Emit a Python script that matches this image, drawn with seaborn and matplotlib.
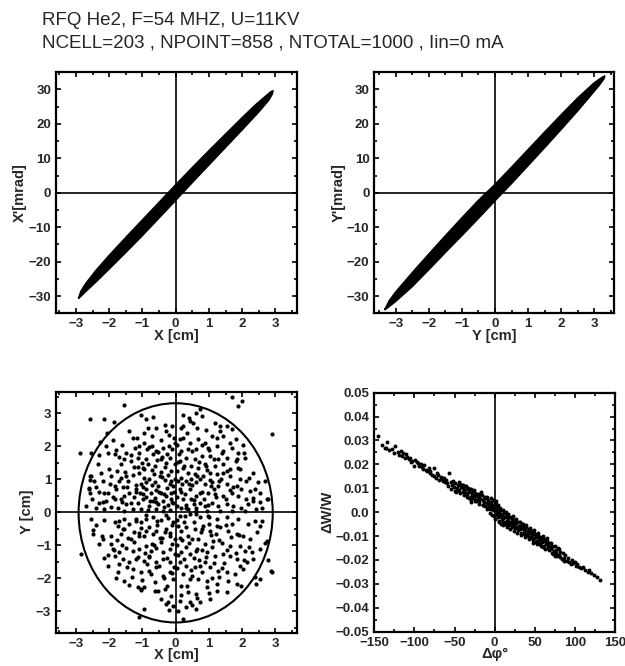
import matplotlib
matplotlib.use("Agg")
import matplotlib.pyplot as plt
from matplotlib.patches import Ellipse
from matplotlib.ticker import MultipleLocator, FixedLocator, FixedFormatter
import seaborn as sns
import pandas as pd

# ---------------- data ----------------
title_lines = ["RFQ He2, F=54 MHZ, U=11KV",
               "NCELL=203 , NPOINT=858 , NTOTAL=1000 , Iin=0 mA"]

# X-X' phase-space outline (upper edge then lower edge)
xx_x = [-2.92, -2.85, -2.7, -2.4, -2.0, -1.5, -1.0, -0.5, 0.0, 0.5, 1.0, 1.5, 2.0, 2.4, 2.7, 2.86, 2.93,
        2.9, 2.8, 2.5, 2.0, 1.5, 1.0, 0.5, 0.0, -0.5, -1.0, -1.5, -2.0, -2.4, -2.7, -2.88, -2.92]
xx_xp = [-30.6, -28.6, -26.3, -22.6, -18.2, -13.0, -7.9, -2.8, 2.3, 7.3, 12.2, 17.0, 21.8, 25.5, 28.0, 29.3, 29.6,
         28.6, 26.9, 23.5, 18.3, 13.2, 8.1, 3.0, -2.2, -7.3, -12.4, -17.3, -22.1, -25.9, -28.6, -30.3, -30.6]

# Y-Y' phase-space outline
yy_y = [-3.33, -3.2, -3.0, -2.5, -2.0, -1.5, -1.0, -0.5, 0.0, 0.5, 1.0, 1.5, 2.0, 2.5, 3.0, 3.22, 3.32,
        3.3, 3.15, 2.8, 2.5, 2.0, 1.5, 1.0, 0.5, 0.0, -0.5, -1.0, -1.5, -2.0, -2.5, -3.0, -3.25, -3.33]
yy_yp = [-33.9, -31.4, -28.8, -23.2, -17.8, -12.5, -7.3, -2.2, 2.4, 7.4, 12.5, 17.6, 22.6, 27.5, 31.9, 33.4, 33.9,
         33.2, 31.2, 27.2, 23.8, 18.4, 13.1, 7.9, 2.7, -2.3, -7.4, -12.4, -17.3, -22.3, -27.2, -31.5, -33.4, -33.9]

# X-Y beam cross-section particles (cm)
xy_x = [-1.54, -2.58, -2.15, -1.87, -1.04, -0.89, -0.68, -0.84, -0.33, -0.10, -2.07, -2.27, -2.09, -2.87, -2.55,
        -2.30, -2.04, -1.84, -1.69, -1.49, -1.34, -1.21, -1.17, -1.29, -0.94, -1.09, -0.79, -0.58, -0.38, -0.20,
        -0.03, -1.14, -0.89, -0.68, -0.43, -0.18, -0.03, -1.64, -1.14, -0.99, -0.84, -0.63, -0.33, -0.13, -2.55,
        -2.20, -1.99, -1.84, -1.64, -1.49, -1.29, -1.09, -0.94, -0.79, -0.63, -0.48, -0.33, -0.18, -0.03, -2.60,
        -2.30, -2.04, -1.79, -1.59, -1.39, -1.19, -0.99, -0.89, -0.74, -0.58, -0.43, -0.28, -0.13, -2.52, -2.30,
        -2.09, -1.84, -1.64, -1.49, -1.34, -1.14, -0.99, -0.79, -0.68, -0.53, -0.38, -0.23, -0.08, -2.40, -2.15,
        -1.74, -1.54, -1.29, -1.04, -0.84, -0.58, -0.38, -0.18, -2.57, -2.57, -2.60, -2.57,
        -1.42, -1.18, -0.97, -0.71, -0.52, -0.27, -0.08, -1.55, -1.26, -0.62, -0.35, -0.15, -0.05, -1.08, -0.88,
        -0.45, -0.72, -1.02, -1.35, -0.55, -0.25, -0.10, -0.05, -0.20, -0.45, -0.70, -1.60, -1.90, -1.75, -2.00,
        -2.35, -2.20, -1.95, -2.70, -2.40,
        1.68, 2.00, 1.88, 2.89, 0.22, 0.39, 0.73, 0.62, 0.78, 0.52, 0.22, 1.18, 1.33, 1.53, 1.68, 1.43, 1.33,
        0.22, 0.12, 0.42, 0.67, 0.88, 1.23, 1.63, 1.81, 2.03, 0.98, 0.62, 0.37, 0.17, 1.23, 1.43, 1.68, 1.88,
        2.08, 1.83, 1.53, 1.28, 1.03, 0.78, 0.57, 0.32, 0.12, 0.22, 0.47, 0.67, 0.88, 1.18, 1.43, 1.63, 1.88,
        2.34, 2.13, 2.49, 2.69, 0.37, 0.57, 0.83, 1.03, 1.23, 1.43, 1.63, 1.93, 0.17, 0.32, 0.62, 0.88, 1.08,
        1.28, 1.53, 1.73, 1.98, 2.24, 2.54, 2.74, 0.12, 0.42, 0.73, 0.98, 1.18, 1.43, 1.68, 1.88, 2.13, 2.34,
        0.22, 0.47, 0.73, 0.88, 1.08, 1.28, 1.53, 1.73, 1.98, 2.19, 2.42, 2.59, 0.17, 0.37, 0.62, 0.93, 1.33,
        1.68, 2.08, 2.34, 2.79,
        0.05, 0.08, 0.28, 0.50, 0.72, 0.95, 1.15, 0.85, 0.55, 0.30, 0.05, 0.10, 0.45, 1.02, 1.35, 0.62, 0.05,
        0.15, 0.05, 0.90,
        -2.15, -2.50, -2.23, -2.20, -2.85, -1.84, -1.74, -1.59, -1.39, -1.19, -1.04, -0.89, -0.68, -0.43, -0.23,
        -0.08, -1.64, -1.44, -1.24, -1.09, -0.89, -0.68, -0.48, -0.33, -0.18, -0.03, -1.89, -1.69, -1.49, -1.29,
        -1.09, -0.89, -0.74, -0.58, -0.38, -0.18, -0.03, -1.84, -1.59, -1.39, -1.14, -0.94, -0.79, -0.58, -0.38,
        -0.18, -1.74, -1.54, -1.29, -1.04, -0.79, -0.58, -0.38, -0.18, -0.08, -1.14, -1.04, -0.94, -0.53, -0.33,
        -0.13, -0.23, -0.08, -0.94, -1.09,
        -1.95, -2.05, -1.75, -1.25, -0.95, -0.55, -0.28, -0.10, -0.45, -0.70, -1.05, -1.55, -2.40, -1.30, -0.62,
        -0.25, -0.05, -0.85, -1.70, -2.05, -0.20, -0.30, -1.05,
        0.12, 0.42, 0.73, 0.98, 1.23, 1.53, 1.88, 2.19, 2.39, 2.54, 0.07, 0.32, 0.57, 0.83, 1.03, 1.33, 1.58,
        1.83, 2.03, 2.24, 0.12, 0.37, 0.67, 0.88, 1.13, 1.38, 1.63, 1.93, 2.08, 2.29, 2.54, 2.69, 2.74, 0.17,
        0.42, 0.62, 0.93, 1.18, 1.43, 1.63, 1.83, 2.14, 2.34, 0.12, 0.32, 0.57, 0.88, 1.03, 1.28, 1.53, 1.78,
        2.03, 2.39, 2.54, 2.89, 0.22, 0.42, 0.67, 0.93, 1.23, 1.58, 1.83, 1.98, 2.42, 0.17, 0.37, 0.62, 0.93,
        1.23, 1.53, 0.12, 0.42, 0.73, 1.03, 0.32, 0.62, 0.22, 0.07,
        0.05, 0.25, 0.50, 0.75, 1.00, 1.20, 0.30, 0.55, 0.80, 1.10, 0.05, 0.45, 0.70, 1.45, 1.70, 0.15, 0.05,
        1.30, 2.86, 2.79,
        -0.35, -0.60, -0.90, -1.20, -1.45, -1.70, -1.95, -2.25, -0.15, -0.40, -0.65, -0.95, -1.25, -1.55, -1.80,
        -0.28, -0.52, -0.85, -1.10, -0.30, -0.60, -1.40, -0.12, -0.50, -0.78, -1.05, -1.62, -2.15, -2.45, -0.22,
        -0.40, -1.52, -1.88, -0.70, -0.95,
        0.30, 0.55, 0.80, 1.05, 1.30, 1.55, 1.80, 2.05, 0.15, 0.40, 0.65, 0.90, 1.15, 1.40, 0.25, 0.50, 0.80,
        1.10, 0.35, 0.65, 1.50, 1.85, 2.20, 2.40, 0.98, 1.22, 0.08, 0.70, 1.95, 2.55, 0.42, 1.00, 1.62, 0.20,
        0.60,
        -0.30, -0.55, -0.80, -1.10, -1.35, -1.60, -1.85, -2.15, -0.18, -0.42, -0.65, -0.92, -1.18, -1.45, -0.25,
        -0.50, -0.75, -1.00, -0.35, -0.62, -1.55, -1.95, -2.30, -2.50, -1.20, -0.90, -0.12, -0.80, -1.80, -2.55,
        -0.45, -1.40, -1.70, -0.10, -0.60,
        0.28, 0.55, 0.80, 1.05, 1.30, 1.55, 1.80, 2.05, 0.15, 0.40, 0.65, 0.90, 1.15, 1.40, 0.25, 0.50, 0.80,
        1.10, 0.35, 0.65, 1.50, 1.90, 2.20, 2.45, 1.00, 1.25, 0.08, 0.72, 1.95, 2.60, 0.48, 1.00, 1.65, 0.20,
        0.62]
xy_y = [3.24, 2.81, 2.81, 2.73, 2.93, 2.83, 2.88, 2.56, 2.64, 2.61, 2.41, 2.13, 2.00, 1.78, 1.80,
        1.72, 1.80, 1.75, 1.68, 1.78, 1.72, 1.95, 2.26, 2.26, 2.10, 2.00, 1.98, 1.85, 1.95, 2.00,
        2.10, 1.65, 1.60, 1.75, 1.60, 1.65, 1.45, 1.45, 1.38, 1.35, 1.45, 1.40, 1.38, 1.25, 1.10,
        0.95, 0.85, 0.80, 1.05, 1.10, 1.12, 1.20, 1.05, 1.00, 0.92, 1.10, 0.98, 0.85, 1.00, 0.69,
        0.61, 0.59, 0.69, 0.75, 0.59, 0.69, 0.54, 0.69, 0.59, 0.67, 0.59, 0.49, 0.59, 0.39, 0.29,
        0.34, 0.39, 0.41, 0.24, 0.29, 0.29, 0.39, 0.19, 0.34, 0.24, 0.34, 0.21, 0.29, 0.14, 0.09,
        0.14, 0.04, 0.09, 0.11, 0.07, 0.09, 0.04, 0.07, 1.10, 0.98, 0.73, 0.57,
        0.93, 0.82, 0.76, 0.82, 0.78, 0.72, 0.80, 0.48, 0.45, 0.43, 0.55, 0.40, 0.62, 0.58, 0.92,
        1.22, 1.28, 1.50, 1.55, 1.58, 1.75, 1.90, 2.25, 2.35, 2.20, 2.30, 2.05, 2.20, 1.25, 1.30,
        1.45, 0.30, 0.15, 0.20, 0.75,
        3.48, 3.38, 3.21, 2.36, 2.93, 2.86, 3.13, 3.01, 2.91, 2.71, 2.61, 2.71, 2.61, 2.61, 2.51, 2.31, 2.46,
        2.26, 2.21, 2.10, 2.21, 2.10, 2.26, 2.10, 2.21, 2.05, 1.95, 1.90, 1.90, 1.85, 2.00, 1.85, 1.95, 1.80,
        1.65, 1.60, 1.65, 1.60, 1.70, 1.70, 1.60, 1.65, 1.55, 1.35, 1.40, 1.35, 1.45, 1.40, 1.45, 1.30, 1.35,
        1.20, 0.95, 0.90, 0.95, 1.20, 1.15, 1.10, 1.20, 1.15, 1.20, 1.10, 1.00, 1.05, 0.95, 0.90, 0.85, 0.90,
        0.80, 0.85, 0.75, 0.69, 0.64, 0.59, 0.39, 0.69, 0.69, 0.59, 0.59, 0.54, 0.49, 0.59, 0.49, 0.39, 0.44,
        0.39, 0.39, 0.29, 0.19, 0.29, 0.19, 0.24, 0.19, 0.14, 0.24, 0.09, 0.14, 0.14, 0.09, 0.14, 0.04, 0.04,
        0.04, 0.04, 0.34, 0.39,
        0.45, 0.95, 0.55, 0.82, 1.02, 1.28, 0.70, 0.40, 0.25, 0.22, 1.25, 1.75, 1.02, 0.98, 1.02, 0.50, 0.18,
        2.55, 2.02, 2.48,
        -0.23, -0.66, -0.71, -0.80, -1.27, -0.31, -0.41, -0.51, -0.36, -0.26, -0.31, -0.21, -0.16, -0.23, -0.19,
        -0.31, -0.66, -0.77, -0.61, -0.71, -0.56, -0.66, -0.77, -0.61, -0.71, -0.81, -1.12, -1.22, -1.07, -1.17,
        -1.12, -1.02, -1.17, -1.07, -1.22, -1.12, -1.27, -1.32, -1.42, -1.52, -1.37, -1.47, -1.32, -1.52, -1.42,
        -1.52, -1.82, -2.07, -1.72, -1.82, -1.77, -1.67, -1.92, -1.82, -2.02, -2.28, -2.33, -2.28, -2.38, -2.33,
        -2.53, -2.73, -2.83, -2.93, -3.18,
        -0.95, -1.30, -0.85, -0.90, -0.72, -0.40, -0.50, -0.95, -0.90, -0.95, -0.48, -0.22, -0.40, -1.95, -2.10,
        -2.25, -1.65, -1.58, -1.58, -1.62, -2.95, -2.78, -2.35,
        -0.11, -0.06, -0.16, -0.11, -0.21, -0.16, -0.21, -0.36, -0.26, -0.41, -0.41, -0.46, -0.51, -0.41, -0.56,
        -0.46, -0.56, -0.66, -0.72, -0.82, -0.77, -0.72, -0.82, -0.97, -0.87, -0.92, -1.02, -1.02, -1.17, -1.22,
        -1.12, -0.92, -0.87, -1.22, -1.27, -1.17, -1.22, -1.32, -1.27, -1.32, -1.42, -1.52, -1.42, -1.52, -1.62,
        -1.67, -1.52, -1.67, -1.77, -1.82, -1.87, -1.72, -1.97, -2.02, -1.82, -1.87, -2.02, -2.02, -2.07, -2.18,
        -2.07, -2.18, -2.23, -2.18, -2.23, -2.43, -2.48, -2.28, -2.38, -2.43, -2.68, -2.73, -2.73, -2.63, -2.88,
        -2.93, -3.23, -2.98,
        -0.25, -0.30, -0.80, -0.60, -0.35, -0.65, -1.05, -1.40, -1.15, -1.05, -1.00, -1.75, -1.45, -1.55, -0.35,
        -2.50, -1.70, -1.95, -1.79, -1.44,
        0.15, 0.30, 0.45, 0.62, 0.75, 0.95, 1.10, 1.20, 0.95, 1.08, 1.15, 1.32, 1.38, 1.62, 1.88,
        1.48, 1.82, 1.90, 1.78, 2.45, 2.55, 2.45, 0.30, 0.62, 0.35, 0.85, 0.30, 0.58, 0.95, 1.12,
        1.68, 1.22, 0.45, 2.00, 2.40,
        0.12, 0.38, 0.62, 0.80, 0.95, 1.25, 1.55, 1.80, 0.62, 0.85, 1.10, 1.40, 1.62, 1.78, 1.40, 1.85, 2.05,
        2.30, 2.40, 2.55, 0.40, 0.80, 1.05, 0.70, 0.22, 0.45, 1.52, 1.52, 1.30, 0.30, 2.75, 1.88, 0.68, 0.85,
        0.05,
        -0.10, -0.28, -0.45, -0.62, -0.80, -0.98, -1.15, -1.40, -0.62, -0.78, -1.00, -1.25, -1.42, -1.65, -1.38,
        -1.62, -1.88, -2.05, -2.00, -2.40, -0.52, -0.72, -0.95, -0.55, -0.22, -0.08, -1.85, -1.35, -1.98, -0.22,
        -2.62, -2.20, -0.28, -0.38, -0.58,
        -0.12, -0.30, -0.50, -0.70, -0.85, -1.15, -1.25, -1.45, -0.58, -0.92, -1.10, -1.35, -1.55, -1.70, -1.42,
        -1.92, -1.80, -2.00, -2.25, -2.60, -0.40, -0.70, -1.05, -0.60, -0.15, -0.42, -1.30, -1.62, -1.62, -0.28,
        -2.80, -2.45, -0.75, -0.85, -0.05]

# ellipse envelope of the X-Y cross section (cm)
env_center = (0.0, -0.02)
env_width = 5.84
env_height = 6.64

# longitudinal phase space: phase (deg) and relative energy deviation
dphi = [-145, -134, -135, -132, -128, -124, -121, -117, -114, -111, -109, -115, -112, -107, -105, -103, -99, -96,
        -92, -100, -94, -90, -88, -86, -84, -82, -80, -78, -75, -76, -73, -71, -69, -67, -65, -63, -61, -59, -57,
        -97, -104, -126, -119, -89, -81, -72, -66, -62, -140, -137,
        -55, -53, -51, -49, -47, -44, -42, -40, -38, -36, -34, -32, -30, -28, -26, -24, -22, -20, -17, -15, -13,
        -11, -9, -7, -5, -3, -1,
        -54, -50, -46, -43, -39, -35, -31, -29, -25, -23, -19, -16, -14, -12, -10, -8, -6, -4, -2, -1, -45, -41,
        -37, -33, -27, -21, -18, -12, -6, -58, -48, -30, -3, 0, 2, 4, -2,
        1, 2, 3, 4, 5, 6, 7, 8, 9, 10, 11, 12, 13, 14, 15, 16, 17, 18, 19, 20, 21, 22, 23, 24, 25, 26, 27, 28,
        29, 30, 31, 32, 33, 34, 35, 36, 37, 38, 39, 40, 41, 42, 43, 44, 45, 46, 47, 48, 49, 50, 51, 52, 53, 54,
        55, 56, 57, 58, 59, 60, 62, 63, 64, 66, 68, 69, 70, 72, 74, 75, 77, 79, 80,
        6, 9, 13, 17, 21, 27, 33, 38, 44, 49, 55, 61, 65, 71, 3, 15, 25, 35, 45, 58, 67,
        82, 84, 87, 90, 93, 95, 98, 101, 105, 108, 112, 116, 120, 124, 128, 131, 85, 88, 92, 96, 100, 103, 110,
        118, 81, 86,
        -40, -38, -35, -32, -28, -25, -22, -20, -18, -15, -13, -10, -8, -6, -4, -2, 0, 0, 1, 2, 3, 4, 5, 7, 8,
        10, 11, 12, 14, 15, 17, 18, 19, 21, 22, 24, 25, 27, 28, 30, 31, 33, 34, 36, 38, 39, 41, 43, 44, 46, 48,
        49, 51, 53, 54, 56, 58, 60, 61, 63, 65, 67, 68, 70, 72, 73, 75, 76, 78, 80, -52, -47, -43, -36, -30,
        -26, -9, -5]
dww = [0.0319, 0.0292, 0.0267, 0.0262, 0.0264, 0.0278, 0.0253, 0.0256, 0.0246, 0.0242, 0.0232, 0.0234, 0.0226,
       0.0223, 0.0227, 0.0214, 0.0218, 0.0205, 0.0200, 0.0192, 0.0193, 0.0187, 0.0198, 0.0178, 0.0171, 0.0186,
       0.0164, 0.0156, 0.0186, 0.0150, 0.0143, 0.0157, 0.0136, 0.0149, 0.0129, 0.0142, 0.0135, 0.0122, 0.0163,
       0.0212, 0.0209, 0.0249, 0.0241, 0.0179, 0.0172, 0.0165, 0.0140, 0.0125, 0.0281, 0.0270,
       0.0128, 0.0114, 0.0107, 0.0121, 0.0100, 0.0093, 0.0107, 0.0086, 0.0093, 0.0079, 0.0072, 0.0086, 0.0065,
       0.0072, 0.0058, 0.0079, 0.0051, 0.0065, 0.0086, 0.0051, 0.0044, 0.0058, 0.0037, 0.0030, 0.0044, 0.0023,
       0.0030,
       0.0098, 0.0090, 0.0112, 0.0080, 0.0102, 0.0064, 0.0095, 0.0052, 0.0068, 0.0045, 0.0042, 0.0070, 0.0030,
       0.0062, 0.0020, 0.0050, 0.0012, 0.0035, 0.0008, -0.0015, 0.0125, 0.0115, 0.0108, 0.0100, 0.0088, 0.0076,
       0.0055, 0.0025, 0.0022, 0.0110, 0.0085, 0.0042, -0.0010, 0.0040, 0.0035, 0.0015, 0.0050,
       0.0012, -0.0005, 0.0025, -0.0020, 0.0002, -0.0035, -0.0016, 0.0010, -0.0007, -0.0040, -0.0026, -0.0005,
       -0.0019, -0.0048, -0.0035, -0.0012, -0.0030, -0.0055, -0.0022, -0.0044, -0.0060, -0.0035, -0.0015,
       -0.0054, -0.0068, -0.0047, -0.0028, -0.0063, -0.0075, -0.0058, -0.0040, -0.0072, -0.0085, -0.0067,
       -0.0050, -0.0081, -0.0092, -0.0074, -0.0060, -0.0091, -0.0100, -0.0086, -0.0070, -0.0110, -0.0102,
       -0.0080, -0.0095, -0.0118, -0.0109, -0.0090, -0.0102, -0.0125, -0.0119, -0.0098, -0.0113, -0.0135,
       -0.0130, -0.0108, -0.0123, -0.0145, -0.0141, -0.0118, -0.0133, -0.0151, -0.0144, -0.0128, -0.0155,
       -0.0169, -0.0161, -0.0183, -0.0172, -0.0150, -0.0179,
       -0.0010, -0.0028, -0.0040, -0.0018, -0.0052, -0.0038, -0.0062, -0.0065, -0.0078, -0.0085, -0.0105,
       -0.0112, -0.0122, -0.0140, 0.0005, -0.0052, -0.0040, -0.0062, -0.0088, -0.0118, -0.0138,
       -0.0186, -0.0197, -0.0193, -0.0203, -0.0207, -0.0217, -0.0214, -0.0225, -0.0231, -0.0235, -0.0242,
       -0.0249, -0.0256, -0.0263, -0.0273, -0.0284, -0.0172, -0.0181, -0.0190, -0.0200, -0.0208, -0.0218,
       -0.0228, -0.0240, -0.0165, -0.0205,
       0.0115, 0.0070, 0.0095, 0.0060, 0.0080, 0.0048, 0.0068, 0.0035, 0.0075, 0.0028, 0.0060, 0.0012, 0.0042,
       -0.0002, 0.0058, 0.0018, -0.0012, 0.0022, -0.0030, 0.0045, -0.0008, 0.0030, -0.0042, 0.0018, -0.0048,
       0.0008, -0.0052, -0.0020, 0.0002, -0.0062, -0.0008, -0.0040, -0.0070, -0.0025, -0.0050, -0.0078,
       -0.0032, -0.0060, -0.0088, -0.0042, -0.0066, -0.0095, -0.0050, -0.0072, -0.0104, -0.0055, -0.0080,
       -0.0112, -0.0065, -0.0090, -0.0128, -0.0074, -0.0095, -0.0135, -0.0085, -0.0105, -0.0142, -0.0100,
       -0.0120, -0.0152, -0.0110, -0.0130, -0.0160, -0.0128, -0.0145, -0.0175, -0.0140, -0.0160, -0.0185,
       -0.0155, 0.0130, 0.0088, 0.0118, 0.0110, 0.0098, 0.0092, 0.0064, 0.0016]

# axis tick values / labels
cm_ticks = [-3, -2, -1, 0, 1, 2, 3]
mrad_ticks = [-30, -20, -10, 0, 10, 20, 30]
phi_ticks = [-150, -100, -50, 0, 50, 100, 150]
dww_ticks = [-0.05, -0.04, -0.03, -0.02, -0.01, 0.0, 0.01, 0.02, 0.03, 0.04, 0.05]
dww_labels = ["\u22120.05", "\u22120.04", "\u22120.03", "\u22120.02", "\u22120.01", "0.0",
              "0.01", "0.02", "0.03", "0.04", "0.05"]

# ---------------- style ----------------
sns.set_style("ticks")
plt.rcParams["font.family"] = ["Liberation Sans", "DejaVu Sans"]
plt.rcParams["axes.unicode_minus"] = True

fig = plt.figure(figsize=(6.25, 6.66), dpi=100)

ax_tl = fig.add_axes([0.0896, 0.5296, 0.3856, 0.3619])
ax_tr = fig.add_axes([0.5989, 0.5296, 0.3835, 0.3619])
ax_bl = fig.add_axes([0.0896, 0.0500, 0.3856, 0.3619])
ax_br = fig.add_axes([0.5989, 0.0515, 0.3851, 0.3589])

TICK_FS = 9.5
LAB_FS = 10.5

def style_axis(ax, xmaj, xmin, ymaj, ymin):
    for s in ax.spines.values():
        s.set_linewidth(1.6)
        s.set_color("black")
        s.set_visible(True)
    ax.xaxis.set_major_locator(FixedLocator(xmaj))
    ax.yaxis.set_major_locator(FixedLocator(ymaj))
    ax.xaxis.set_minor_locator(MultipleLocator(xmin))
    ax.yaxis.set_minor_locator(MultipleLocator(ymin))
    ax.tick_params(which="both", direction="in", top=True, right=True, bottom=True, left=True,
                   color="black", width=1.2)
    ax.tick_params(which="major", length=3.5, labelsize=TICK_FS, pad=3.5)
    ax.tick_params(which="minor", length=2)
    for lab in ax.get_xticklabels() + ax.get_yticklabels():
        lab.set_fontweight("bold")
    ax.grid(False)
    ax.set_facecolor("white")

# top-left: X - X'
df_xx = pd.DataFrame({"x": xx_x, "xp": xx_xp})
ax_tl.fill(df_xx["x"], df_xx["xp"], color="black", lw=0)
sns.lineplot(data=df_xx, x="x", y="xp", sort=False, estimator=None, color="black", lw=1.2, ax=ax_tl)
ax_tl.set_xlim(-3.6, 3.65)
ax_tl.set_ylim(-35, 35)
style_axis(ax_tl, cm_ticks, 0.5, mrad_ticks, 5)
ax_tl.set_xlabel("X [cm]", fontsize=LAB_FS, fontweight="bold", labelpad=-1)
ax_tl.set_ylabel("X'[mrad]", fontsize=LAB_FS, fontweight="bold", labelpad=1)

# top-right: Y - Y'
df_yy = pd.DataFrame({"y": yy_y, "yp": yy_yp})
ax_tr.fill(df_yy["y"], df_yy["yp"], color="black", lw=0)
sns.lineplot(data=df_yy, x="y", y="yp", sort=False, estimator=None, color="black", lw=1.2, ax=ax_tr)
ax_tr.set_xlim(-3.65, 3.6)
ax_tr.set_ylim(-35, 35)
style_axis(ax_tr, cm_ticks, 0.5, mrad_ticks, 5)
ax_tr.set_xlabel("Y [cm]", fontsize=LAB_FS, fontweight="bold", labelpad=-1)
ax_tr.set_ylabel("Y'[mrad]", fontsize=LAB_FS, fontweight="bold", labelpad=1)

# bottom-left: X - Y
df_xy = pd.DataFrame({"x": xy_x, "y": xy_y})
sns.scatterplot(data=df_xy, x="x", y="y", s=9, color="black", linewidth=0, ax=ax_bl)
ax_bl.add_patch(Ellipse(env_center, env_width, env_height, fill=False, ec="black", lw=1.5))
ax_bl.set_xlim(-3.6, 3.65)
ax_bl.set_ylim(-3.65, 3.65)
style_axis(ax_bl, cm_ticks, 0.5, cm_ticks, 0.5)
ax_bl.set_xlabel("X [cm]", fontsize=LAB_FS, fontweight="bold", labelpad=-1)
ax_bl.set_ylabel("Y [cm]", fontsize=LAB_FS, fontweight="bold", labelpad=1)

# bottom-right: dphi - dW/W
df_l = pd.DataFrame({"phi": dphi, "dw": dww})
sns.scatterplot(data=df_l, x="phi", y="dw", s=8, color="black", linewidth=0, ax=ax_br)
ax_br.set_xlim(-150, 150)
ax_br.set_ylim(-0.05, 0.05)
style_axis(ax_br, phi_ticks, 25, dww_ticks, 0.005)
ax_br.yaxis.set_major_formatter(FixedFormatter(dww_labels))
for lab in ax_br.get_yticklabels():
    lab.set_fontweight("bold")
ax_br.set_xlabel("\u0394\u03c6\u00b0", fontsize=LAB_FS, fontweight="bold", labelpad=-1)
ax_br.set_ylabel("\u0394W/W", fontsize=LAB_FS, fontweight="bold", labelpad=1)

# zero lines
for ax in (ax_tl, ax_tr, ax_bl):
    ax.axhline(0, color="black", lw=1.2, zorder=0.5)
    ax.axvline(0, color="black", lw=1.2, zorder=0.5)
ax_br.axvline(0, color="black", lw=1.2, zorder=0.5)

fig.text(0.067, 0.962, title_lines[0], fontsize=13.5, ha="left", va="baseline")
fig.text(0.067, 0.929, title_lines[1], fontsize=13.5, ha="left", va="baseline")

fig.savefig("out.png", dpi=100, facecolor="white")
